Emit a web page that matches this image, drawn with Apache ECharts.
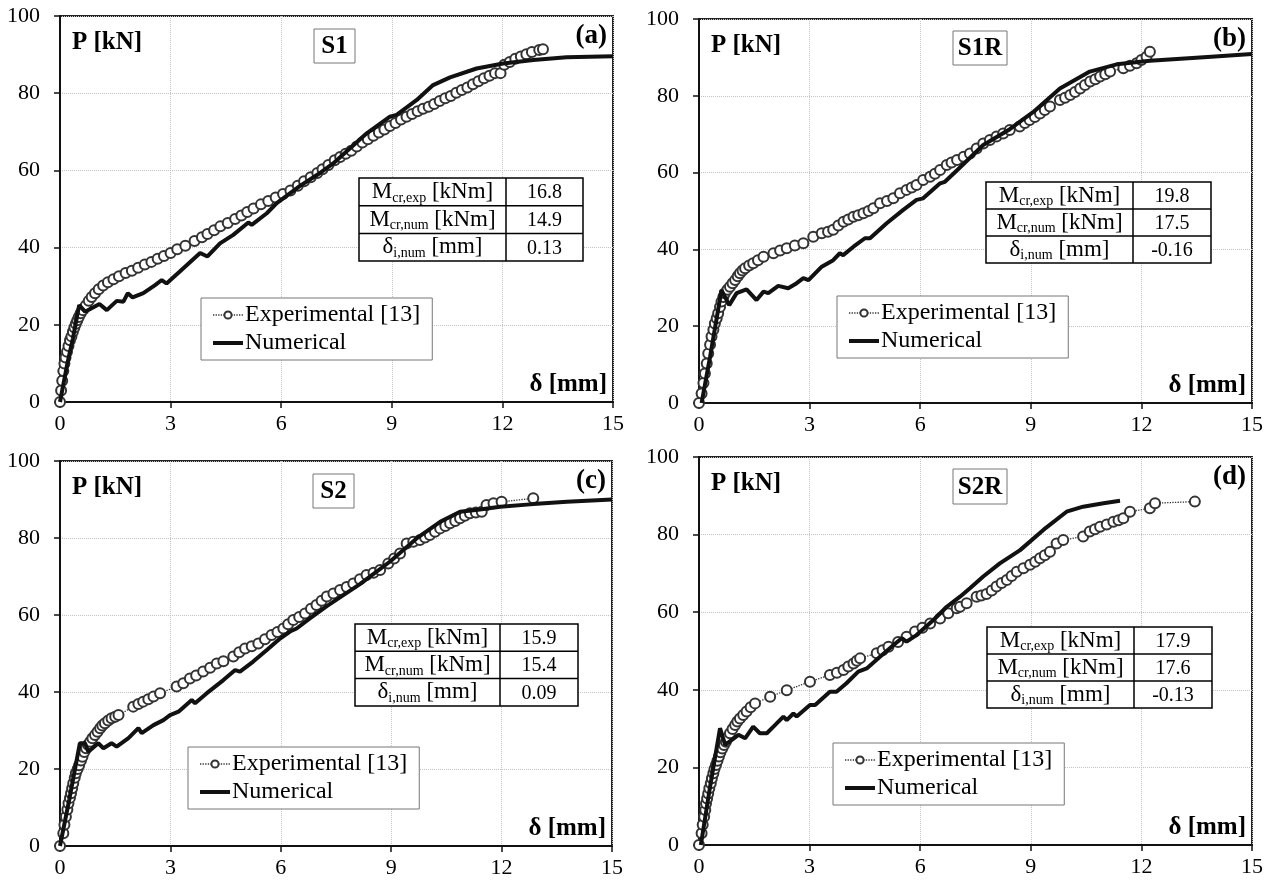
<!DOCTYPE html>
<html>
<head>
<meta charset="utf-8">
<script src="https://cdn.jsdelivr.net/npm/echarts/dist/echarts.min.js"></script>
<style>
  html, body { margin: 0; padding: 0; background: #fff; }
  #chart { width: 1269px; height: 883px; }
</style>
</head>
<body>
<div id="chart"></div>
<script>
// axis ticks
const xTicks = [0, 3, 6, 9, 12, 15];
const yTicks = [0, 20, 40, 60, 80, 100];

const specimens = ['S1', 'S1R', 'S2', 'S2R'];
const panelTags = ['(a)', '(b)', '(c)', '(d)'];
const seriesNames = ['Experimental [13]', 'Numerical'];

// table rows
const tableLabels = ['{m|M}{s|cr,exp}{m| [kNm]}', '{m|M}{s|cr,num}{m| [kNm]}', '{m|δ}{s|i,num}{m| [mm]}'];
const mcrExp = ['16.8', '19.8', '15.9', '17.9'];
const mcrNum = ['14.9', '17.5', '15.4', '17.6'];
const deltaI = ['0.13', '-0.16', '0.09', '-0.13'];

// S1 (a)
const expA = [[0,0],[0.03,3],[0.06,5.5],[0.09,8],[0.12,10],[0.15,11.5],[0.19,13],[0.23,14.5],[0.27,16],[0.31,17],[0.35,18.2],[0.39,19.3],[0.43,20.3],[0.47,21.2],[0.51,22],[0.56,23],[0.62,23.8],[0.7,25],[0.78,26.2],[0.86,27.2],[0.95,28.2],[1.05,29.2],[1.17,30.2],[1.3,31],[1.45,31.8],[1.6,32.6],[1.78,33.4],[1.95,34],[2.12,34.8],[2.3,35.6],[2.48,36.3],[2.65,37.1],[2.82,37.8],[3.0,38.6],[3.18,39.6],[3.4,40.5],[3.65,41.7],[3.85,42.7],[4.0,43.5],[4.18,44.5],[4.35,45.5],[4.55,46.4],[4.75,47.4],[4.92,48.3],[5.08,49.2],[5.25,50.1],[5.45,51.2],[5.65,52.1],[5.85,53.0],[6.05,53.9],[6.25,54.8],[6.45,56.0],[6.62,57.2],[6.8,58.2],[6.98,59.3],[7.12,60.3],[7.28,61.4],[7.45,62.6],[7.6,63.5],[7.75,64.3],[7.9,65.1],[8.05,66.2],[8.2,67.2],[8.35,68.1],[8.5,69.0],[8.65,69.8],[8.8,70.6],[8.95,71.5],[9.1,72.3],[9.25,73.2],[9.4,73.9],[9.55,74.6],[9.7,75.3],[9.85,76.0],[10.0,76.5],[10.15,77.2],[10.3,78.0],[10.45,78.7],[10.6,79.3],[10.75,80.1],[10.9,80.8],[11.05,81.5],[11.2,82.3],[11.35,83.1],[11.5,83.9],[11.65,84.5],[11.8,85.2],[11.95,85.2],[12.05,87.4],[12.2,88.1],[12.35,88.9],[12.5,89.5],[12.65,90.1],[12.8,90.7],[13.0,91.2],[13.1,91.4]];
const numA = [[0,0],[0.2,10],[0.35,16.5],[0.52,25.1],[0.56,25.3],[0.68,23.4],[1.07,25.4],[1.27,23.8],[1.54,26.2],[1.72,26.0],[1.84,28.2],[1.97,27.1],[2.26,28.2],[2.58,30.3],[2.76,31.6],[2.89,30.7],[3.25,33.8],[3.8,38.6],[4.0,37.7],[4.34,41.1],[4.7,43.3],[5.11,46.5],[5.2,45.9],[5.61,48.9],[5.88,51.5],[6.51,56.0],[7.0,59.0],[7.41,61.8],[8.32,69.6],[8.95,73.9],[9.13,74.4],[9.67,78.2],[10.12,82.1],[10.58,84.1],[11.3,86.4],[12.02,87.7],[12.84,88.6],[13.74,89.3],[15.0,89.6]];

// S1R (b)
const expB = [[0,0],[0.07,2.5],[0.12,5.2],[0.16,7.7],[0.21,10.3],[0.25,12.9],[0.3,15.2],[0.34,17.3],[0.39,19.1],[0.43,20.7],[0.48,22.1],[0.52,23.4],[0.57,25.0],[0.61,26.4],[0.66,27.6],[0.7,28.6],[0.77,29.5],[0.84,30.3],[0.91,31.2],[0.98,32.0],[1.05,33.0],[1.11,33.8],[1.18,34.5],[1.25,35.1],[1.36,35.8],[1.47,36.4],[1.6,37.2],[1.75,38.1],[2.02,39.0],[2.2,39.7],[2.38,40.3],[2.6,41.0],[2.83,41.6],[3.1,43.3],[3.33,44.2],[3.5,44.6],[3.64,45.1],[3.78,46.2],[3.92,47.2],[4.05,47.8],[4.19,48.5],[4.32,48.9],[4.46,49.4],[4.6,50.0],[4.73,50.7],[4.91,52.0],[5.1,52.6],[5.27,53.3],[5.45,54.6],[5.63,55.5],[5.77,56.1],[5.9,56.8],[6.08,58.1],[6.27,58.9],[6.4,59.7],[6.54,60.7],[6.72,62.0],[6.85,62.6],[7.0,63.3],[7.18,64.1],[7.35,65.0],[7.53,66.3],[7.71,67.6],[7.89,68.5],[8.07,69.4],[8.25,70.2],[8.43,71.1],[8.7,72.0],[8.84,72.9],[8.97,73.7],[9.11,74.5],[9.25,75.4],[9.38,76.3],[9.52,77.2],[9.79,78.9],[9.93,79.5],[10.07,80.2],[10.2,81.0],[10.34,81.9],[10.47,82.8],[10.61,83.7],[10.75,84.3],[10.88,85.0],[11.02,85.6],[11.15,86.3],[11.51,87.2],[11.69,87.8],[11.87,88.5],[12.0,89.3],[12.14,90.2],[12.23,91.5]];
const numB = [[0.07,0],[0.3,12],[0.61,29.4],[0.82,25.5],[1.02,28.6],[1.29,29.6],[1.56,26.8],[1.75,29.0],[1.88,28.6],[2.15,30.5],[2.42,29.9],[2.65,31.2],[2.83,32.5],[2.97,32.0],[3.33,35.5],[3.64,37.2],[3.82,39.0],[3.91,38.5],[4.19,40.7],[4.5,42.9],[4.64,42.9],[5.09,46.8],[5.54,50.3],[5.9,52.9],[6.08,53.3],[6.54,57.2],[6.67,57.6],[7.0,60.6],[7.71,67.2],[8.43,71.3],[9.07,75.8],[9.79,81.9],[10.6,86.3],[11.33,88.2],[12.23,89.1],[13.59,90.0],[15.0,90.9]];

// S2 (c)
const expC = [[0,0],[0.09,3.3],[0.12,5.5],[0.16,7.6],[0.2,9.5],[0.23,11.1],[0.27,12.5],[0.3,13.7],[0.33,15.0],[0.36,16.3],[0.4,17.7],[0.43,18.9],[0.48,20.0],[0.52,21.0],[0.57,22.2],[0.61,23.2],[0.66,24.4],[0.71,25.4],[0.76,26.3],[0.82,27.1],[0.88,28.0],[0.95,28.8],[1.02,29.7],[1.09,30.6],[1.15,31.3],[1.22,31.9],[1.31,32.6],[1.4,33.2],[1.5,33.6],[1.59,34.0],[1.99,36.2],[2.13,36.9],[2.26,37.5],[2.4,38.1],[2.54,38.8],[2.72,39.7],[3.17,41.4],[3.35,42.3],[3.53,43.5],[3.7,44.3],[3.89,45.3],[4.08,46.3],[4.26,47.4],[4.44,48.0],[4.71,49.2],[4.87,50.3],[5.03,51.3],[5.21,51.9],[5.39,52.6],[5.57,53.7],[5.75,54.8],[5.91,55.6],[6.07,56.5],[6.2,57.6],[6.34,58.7],[6.5,59.5],[6.66,60.4],[6.82,61.6],[6.97,62.6],[7.11,63.7],[7.25,64.8],[7.43,65.6],[7.61,66.5],[7.79,67.3],[7.97,68.2],[8.15,69.3],[8.33,70.4],[8.52,71.0],[8.7,71.7],[8.92,73.4],[9.08,74.7],[9.24,76.0],[9.42,78.6],[9.6,79.0],[9.78,79.5],[9.92,80.1],[10.05,80.8],[10.19,81.6],[10.33,82.5],[10.47,83.1],[10.6,83.8],[10.74,84.4],[10.87,85.1],[11.0,85.8],[11.14,86.4],[11.3,86.6],[11.46,86.8],[11.59,88.6],[11.78,89.0],[12.0,89.4],[12.86,90.3]];
const numC = [[0,0],[0.25,12],[0.54,26.7],[0.68,26.7],[0.77,24.5],[1.04,26.7],[1.18,25.4],[1.4,26.7],[1.54,25.8],[1.86,28.0],[2.13,30.6],[2.22,29.3],[2.54,31.4],[2.81,32.7],[2.99,34.0],[3.22,34.9],[3.58,37.9],[3.67,37.1],[3.99,39.7],[4.44,43.1],[4.76,45.7],[4.89,45.3],[5.25,47.9],[5.62,50.9],[5.98,53.9],[6.25,55.7],[6.43,56.5],[6.79,59.1],[7.25,62.3],[8.15,68.0],[8.97,73.9],[9.69,79.9],[10.33,84.2],[10.87,86.8],[11.41,87.4],[11.96,88.1],[12.86,88.8],[13.77,89.4],[15.0,90.0]];

// S2R (d)
const expD = [[0,0],[0.07,3.0],[0.1,5.2],[0.14,7.3],[0.17,9.0],[0.19,10.7],[0.22,12.0],[0.25,13.3],[0.28,14.6],[0.32,15.9],[0.35,17.2],[0.39,18.5],[0.42,19.6],[0.46,20.6],[0.5,21.7],[0.54,22.8],[0.58,23.9],[0.63,24.9],[0.68,25.8],[0.73,26.6],[0.78,27.7],[0.84,28.8],[0.91,29.9],[0.98,30.9],[1.04,31.8],[1.11,32.6],[1.2,33.5],[1.29,34.4],[1.4,35.5],[1.52,36.5],[1.93,38.2],[2.38,39.9],[3.01,42.1],[3.55,43.8],[3.74,44.4],[3.92,45.1],[4.05,46.0],[4.19,46.8],[4.28,47.5],[4.37,48.1],[4.82,49.4],[4.98,50.2],[5.14,51.1],[5.4,52.3],[5.63,53.7],[5.86,55.0],[6.06,56.0],[6.27,57.1],[6.54,58.4],[6.76,59.7],[6.99,61.0],[7.08,61.4],[7.26,62.3],[7.53,64.0],[7.66,64.3],[7.8,64.7],[7.94,65.6],[8.07,66.6],[8.21,67.5],[8.35,68.3],[8.48,69.3],[8.62,70.4],[8.8,71.3],[8.98,72.2],[9.12,73.0],[9.25,73.9],[9.38,74.7],[9.52,75.6],[9.7,77.7],[9.88,78.6],[10.42,79.5],[10.6,80.8],[10.74,81.4],[10.88,82.0],[11.06,82.6],[11.24,83.3],[11.38,83.7],[11.51,84.2],[11.69,85.9],[12.23,86.8],[12.37,88.1],[13.45,88.5]];
const numD = [[0.05,0],[0.3,15],[0.57,30.1],[0.71,25.8],[0.89,27.1],[1.07,28.4],[1.25,27.5],[1.47,30.5],[1.65,28.8],[1.84,28.8],[2.02,30.5],[2.29,33.1],[2.38,32.2],[2.56,33.9],[2.65,33.1],[3.01,36.1],[3.15,36.1],[3.55,39.5],[3.73,39.5],[4.0,41.7],[4.32,44.7],[4.55,45.5],[4.91,48.5],[5.27,51.5],[5.5,53.3],[5.63,52.4],[5.9,54.1],[6.36,58.0],[6.72,61.4],[7.08,64.0],[7.35,66.2],[7.71,69.2],[8.16,72.6],[8.71,76.0],[9.34,81.2],[9.97,85.9],[10.42,87.2],[10.97,88.1],[11.42,88.7]];

const expData = [expA, expB, expC, expD];
const numData = [numA, numB, numC, numD];

const FONT = '"Liberation Serif", "Times New Roman", serif';

// layout of the four panels (pixels)
const panels = [
  { left: 60,  top: 16,  width: 553, height: 386, sBox: [314, 29, 41, 34],  table: [359, 178, 147, 77, 27.7], legend: [201, 298] },
  { left: 699, top: 19,  width: 553, height: 384, sBox: [953, 31, 54, 34],  table: [986, 182, 147, 78, 27],   legend: [837, 296] },
  { left: 60,  top: 461, width: 552, height: 385, sBox: [313, 474, 41, 34], table: [355, 624, 145, 78, 27.3], legend: [188, 747] },
  { left: 699, top: 457, width: 553, height: 388, sBox: [953, 469, 54, 35], table: [987, 627, 147, 78, 27],   legend: [833, 743] }
];

const chart = echarts.init(document.getElementById('chart'));

const grids = [], xAxes = [], yAxes = [], series = [], legends = [], graphics = [];

const richStyle = {
  m: { fontSize: 23, fontFamily: FONT, lineHeight: 26, fill: '#000' },
  s: { fontSize: 14, fontFamily: FONT, lineHeight: 12, verticalAlign: 'bottom', fill: '#000' }
};

panels.forEach((p, i) => {
  grids.push({
    left: p.left, top: p.top, width: p.width, height: p.height,
    show: true, borderColor: '#222', borderWidth: 2, backgroundColor: 'transparent'
  });
  xAxes.push({
    type: 'value', gridIndex: i,
    min: xTicks[0], max: xTicks[xTicks.length - 1], interval: xTicks[1] - xTicks[0],
    axisLine: { onZero: false, lineStyle: { color: '#111', width: 2 } },
    axisTick: { length: 6, lineStyle: { color: '#111', width: 1.5 } },
    axisLabel: { fontFamily: FONT, fontSize: 22, color: '#000', margin: 11 },
    splitLine: { lineStyle: { color: '#c4c4c4', type: 'dotted', width: 1 } }
  });
  yAxes.push({
    type: 'value', gridIndex: i,
    min: yTicks[0], max: yTicks[yTicks.length - 1], interval: yTicks[1] - yTicks[0],
    axisLine: { onZero: false, lineStyle: { color: '#111', width: 2 } },
    axisTick: { length: 6, lineStyle: { color: '#111', width: 1.5 } },
    axisLabel: { fontFamily: FONT, fontSize: 22, color: '#000', margin: 20 },
    splitLine: { lineStyle: { color: '#c4c4c4', type: 'dotted', width: 1 } }
  });
  series.push({
    name: seriesNames[0], type: 'line', xAxisIndex: i, yAxisIndex: i,
    data: expData[i], symbol: 'emptyCircle', symbolSize: 10, showAllSymbol: true,
    itemStyle: { color: '#333', borderWidth: 1 },
    lineStyle: { color: '#333', width: 1.3, type: 'dotted' },
    z: 2, animation: false
  });
  series.push({
    name: seriesNames[1], type: 'line', xAxisIndex: i, yAxisIndex: i,
    data: numData[i], symbol: 'none',
    itemStyle: { color: '#111' },
    lineStyle: { color: '#111', width: 4 },
    z: 3, animation: false
  });
  legends.push({
    data: [
      { name: seriesNames[0] },
      { name: seriesNames[1], itemStyle: { opacity: 0 } }
    ],
    orient: 'vertical', left: p.legend[0], top: p.legend[1],
    backgroundColor: '#fff', borderColor: '#777', borderWidth: 1,
    padding: [5, 12, 5, 10], itemGap: 4, itemWidth: 30, itemHeight: 9,
    selectedMode: false,
    lineStyle: { width: 'inherit' },
    textStyle: { fontFamily: FONT, fontSize: 24, color: '#000', padding: [0, 0, 0, -3] }
  });

  const right = p.left + p.width, bottom = p.top + p.height;
  graphics.push({
    type: 'text', z: 100,
    style: { x: p.left + 12, y: p.top + 27, text: 'P [kN]', font: 'bold 25px ' + FONT, fill: '#000', verticalAlign: 'middle' }
  });
  graphics.push({
    type: 'text', z: 100,
    style: { x: right - 6, y: bottom - 17, text: 'δ [mm]', font: 'bold 25px ' + FONT, fill: '#000', align: 'right', verticalAlign: 'middle' }
  });
  graphics.push({
    type: 'text', z: 100,
    style: { x: right - 6, y: p.top + 20, text: panelTags[i], font: 'bold 27px ' + FONT, fill: '#000', align: 'right', verticalAlign: 'middle' }
  });
  const b = p.sBox;
  graphics.push({
    type: 'rect', z: 100,
    shape: { x: b[0], y: b[1], width: b[2], height: b[3] },
    style: { fill: '#fff', stroke: '#777', lineWidth: 1 }
  });
  graphics.push({
    type: 'text', z: 101,
    style: { x: b[0] + b[2] / 2, y: b[1] + b[3] / 2 + 1, text: specimens[i], font: 'bold 25px ' + FONT, fill: '#000', align: 'center', verticalAlign: 'middle' }
  });

  // table
  const [tx, ty, w1, w2, rh] = p.table;
  const vals = [mcrExp[i], mcrNum[i], deltaI[i]];
  graphics.push({
    type: 'rect', z: 100,
    shape: { x: tx, y: ty, width: w1 + w2, height: rh * 3 },
    style: { fill: '#fff', stroke: '#000', lineWidth: 1.5 }
  });
  graphics.push({
    type: 'line', z: 101,
    shape: { x1: tx + w1, y1: ty, x2: tx + w1, y2: ty + rh * 3 },
    style: { stroke: '#000', lineWidth: 1.5 }
  });
  for (let r = 1; r < 3; r++) {
    graphics.push({
      type: 'line', z: 101,
      shape: { x1: tx, y1: ty + rh * r, x2: tx + w1 + w2, y2: ty + rh * r },
      style: { stroke: '#000', lineWidth: 1.5 }
    });
  }
  for (let r = 0; r < 3; r++) {
    graphics.push({
      type: 'text', z: 102,
      style: { x: tx + w1 / 2, y: ty + rh * r + rh / 2, text: tableLabels[r], rich: richStyle, align: 'center', verticalAlign: 'middle' }
    });
    graphics.push({
      type: 'text', z: 102,
      style: { x: tx + w1 + w2 / 2, y: ty + rh * r + rh / 2 + 1, text: vals[r], font: '20px ' + FONT, fill: '#000', align: 'center', verticalAlign: 'middle' }
    });
  }
});

chart.setOption({
  animation: false,
  backgroundColor: '#fff',
  grid: grids,
  xAxis: xAxes,
  yAxis: yAxes,
  legend: legends,
  series: series,
  graphic: graphics
});
</script>
</body>
</html>
